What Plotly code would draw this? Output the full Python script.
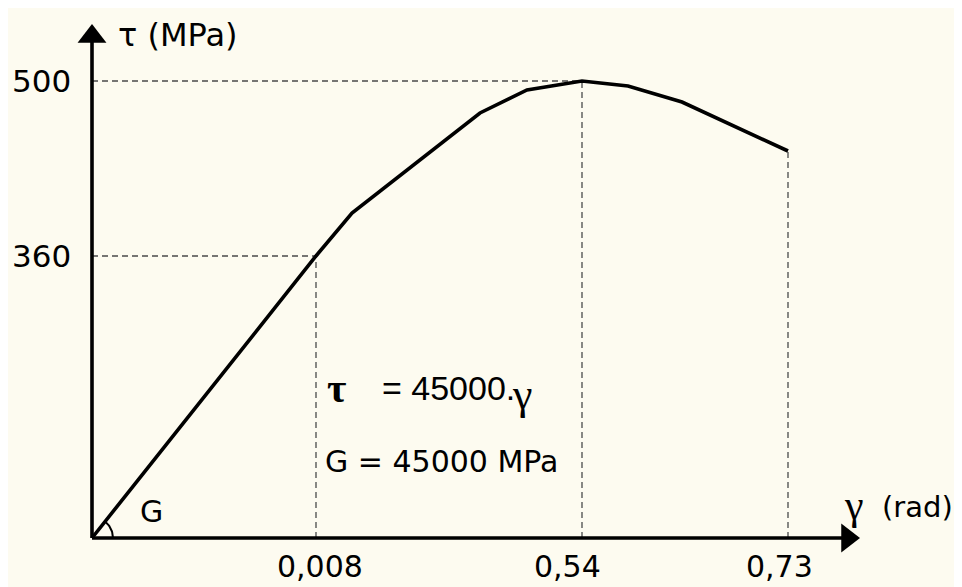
import numpy as np
import plotly.graph_objects as go

# Schematic diagram units: the original axes are not drawn to scale,
# so tick positions are read off the picture in diagram units.
gamma_labels = ["0,008", "0,54", "0,73"]
gamma_pos = [2.24, 4.90, 6.96]
gamma_curve_tau = [2.82, 4.57, 3.87]   # curve height at each gamma tick
tau_labels = ["360", "500"]
tau_pos = [2.82, 4.57]
tau_reach = [2.24, 4.90]               # where each tau guide meets the curve

curve_x = [0, 2.24, 2.60, 3.88, 4.35, 4.90, 5.36, 5.90, 6.96]
curve_y = [0, 2.82, 3.25, 4.25, 4.48, 4.57, 4.52, 4.36, 3.87]

BG = "#FDFBF0"
SANS = "DejaVu Sans"
SERIF = "Liberation Serif"
DASH = dict(color="#4a4a4a", width=1.3, dash="6px,4px")

fig = go.Figure()

# dashed guide lines
for t, xr in zip(tau_pos, tau_reach):
    fig.add_trace(go.Scatter(x=[0, xr], y=[t, t], mode="lines", line=DASH, hoverinfo="skip"))
for g, yc in zip(gamma_pos, gamma_curve_tau):
    fig.add_trace(go.Scatter(x=[g, g], y=[0, yc], mode="lines", line=DASH, hoverinfo="skip"))

# stress-strain curve
fig.add_trace(go.Scatter(x=curve_x, y=curve_y, mode="lines",
                         line=dict(color="black", width=3.6), hoverinfo="skip"))

# angle arc for G
ang = np.linspace(0, np.arctan2(curve_y[1], curve_x[1]), 20)
r = 0.21
fig.add_trace(go.Scatter(x=r * np.cos(ang), y=r * np.sin(ang), mode="lines",
                         line=dict(color="black", width=2), hoverinfo="skip"))

# axes
fig.add_trace(go.Scatter(x=[0, 0], y=[0, 4.96], mode="lines",
                         line=dict(color="black", width=3.6), hoverinfo="skip"))
fig.add_trace(go.Scatter(x=[0, 7.50], y=[0, 0], mode="lines",
                         line=dict(color="black", width=3.6), hoverinfo="skip"))
fig.add_trace(go.Scatter(x=[0], y=[5.015], mode="markers",
                         marker=dict(symbol="triangle-up", size=25, color="black"), hoverinfo="skip"))
fig.add_trace(go.Scatter(x=[7.555], y=[0], mode="markers",
                         marker=dict(symbol="triangle-right", size=25, color="black"), hoverinfo="skip"))

ann = []
# tau tick labels
for lab, t in zip(tau_labels, tau_pos):
    ann.append(dict(x=-0.19, y=t, text=lab, xanchor="right", yanchor="middle",
                    showarrow=False, font=dict(family=SANS, size=31, color="black")))
# gamma tick labels
gamma_shift = [4, -15, -9]
for lab, g, s in zip(gamma_labels, gamma_pos, gamma_shift):
    ann.append(dict(x=g, y=-0.28, text=lab, xanchor="center", yanchor="middle", xshift=s,
                    showarrow=False, font=dict(family=SANS, size=30, color="black")))

# axis titles
ann.append(dict(x=0.24, y=5.035, text="τ (MPa)", xanchor="left", yanchor="middle",
                showarrow=False, font=dict(family=SANS, size=32, color="black")))
ann.append(dict(x=7.50, y=0.33, text="γ", xanchor="left", yanchor="middle",
                showarrow=False, font=dict(family=SERIF, size=42, color="black")))
ann.append(dict(x=7.88, y=0.31, text="(rad)", xanchor="left", yanchor="middle",
                showarrow=False, font=dict(family=SANS, size=29, color="black")))

# formulas
ann.append(dict(x=2.33, y=1.50, text="<b>τ</b>", xanchor="left", yanchor="middle",
                showarrow=False, font=dict(family=SERIF, size=42, color="black")))
ann.append(dict(x=2.88, y=1.50, text="= 45000.", xanchor="left", yanchor="middle",
                showarrow=False, font=dict(family="Liberation Sans", size=34, color="black")))
ann.append(dict(x=4.18, y=1.44, text="γ", xanchor="left", yanchor="middle",
                showarrow=False, font=dict(family=SERIF, size=44, color="black")))
ann.append(dict(x=2.31, y=0.77, text="G = 45000 MPa", xanchor="left", yanchor="middle",
                showarrow=False, font=dict(family=SANS, size=30, color="black")))
ann.append(dict(x=0.59, y=0.27, text="G", xanchor="center", yanchor="middle",
                showarrow=False, font=dict(family=SANS, size=30, color="black")))

fig.update_layout(
    width=962, height=587, autosize=False,
    margin=dict(l=0, r=0, t=0, b=0, pad=0),
    paper_bgcolor=BG, plot_bgcolor=BG,
    showlegend=False, hovermode=False,
    xaxis=dict(range=[-0.84, 8.78], visible=False, fixedrange=True),
    yaxis=dict(range=[-0.57, 5.30], visible=False, fixedrange=True),
    annotations=ann,
)

fig.write_html("out.html")
